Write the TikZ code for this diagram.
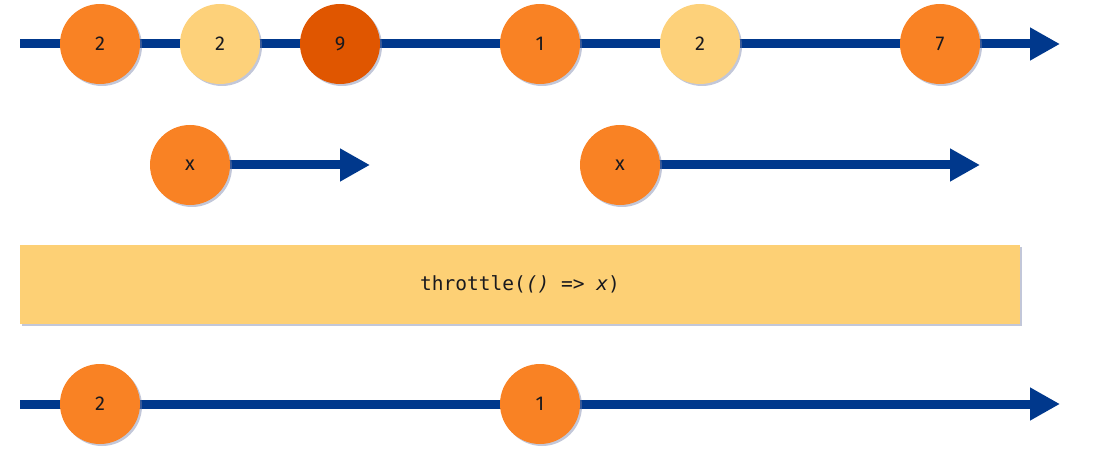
\documentclass[tikz,border=0pt]{standalone}
\usepackage{fontspec}
\setmainfont{Fira Sans}
\newfontfamily\codefont{DejaVu Sans Mono}
\usetikzlibrary{arrows.meta,shadows}
\definecolor{lineblue}{RGB}{0,56,140}
\definecolor{marbleorange}{RGB}{249,130,36}
\definecolor{marblelight}{RGB}{253,209,122}
\definecolor{marbledark}{RGB}{224,86,0}
\definecolor{opfill}{RGB}{253,208,117}
\definecolor{shadowcol}{RGB}{120,130,170}
\definecolor{textdark}{RGB}{25,25,30}
\tikzset{
  timeline/.style={draw=lineblue, line width=9pt,
    -{Triangle[length=30pt,width=31pt]}},
  marble/.style={circle, minimum size=80pt, inner sep=0pt, text=textdark,
    font=\fontsize{20}{20}\selectfont,
    drop shadow={shadow xshift=2pt, shadow yshift=-2pt, fill=shadowcol, opacity=0.45}},
  orangem/.style={marble, fill=marbleorange},
  lightm/.style={marble, fill=marblelight},
  darkm/.style={marble, fill=marbledark},
  opbox/.style={fill=opfill, minimum width=1000pt, minimum height=79pt, inner sep=0pt,
    text=textdark, font=\codefont\fontsize{19.5}{19.5}\selectfont,
    drop shadow={shadow xshift=2pt, shadow yshift=-2pt, fill=shadowcol, opacity=0.45}}
}
\begin{document}
\begin{tikzpicture}[x=1pt,y=-1pt]
\useasboundingbox (0,0) rectangle (1094,462);
% top timeline
\coordinate (s1) at (20,44);
\coordinate (e1) at (1060,44);
\draw[timeline] (s1) -- (e1);
\node[orangem] (a1) at (100,44) {2};
\node[lightm] (a2) at (220,44) {2};
\node[darkm] (a3) at (340,44) {9};
\node[orangem] (a4) at (540,44) {1};
\node[lightm] (a5) at (700,44) {2};
\node[orangem] (a6) at (940,44) {7};
% inner observables
\coordinate (e2) at (370,165);
\coordinate (e3) at (980,165);
\coordinate (c1) at (190,165);
\coordinate (c2) at (620,165);
\draw[timeline] (c1) -- (e2);
\draw[timeline] (c2) -- (e3);
\node[orangem] (x1) at (c1) {x};
\node[orangem] (x2) at (c2) {x};
% operator box
\node[opbox] (op) at (520,284.5) {throttle(\textit{()} => \textit{x})};
% bottom timeline
\coordinate (s4) at (20,404);
\coordinate (e4) at (1060,404);
\draw[timeline] (s4) -- (e4);
\node[orangem] (b1) at (100,404) {2};
\node[orangem] (b2) at (540,404) {1};
\end{tikzpicture}
\end{document}
